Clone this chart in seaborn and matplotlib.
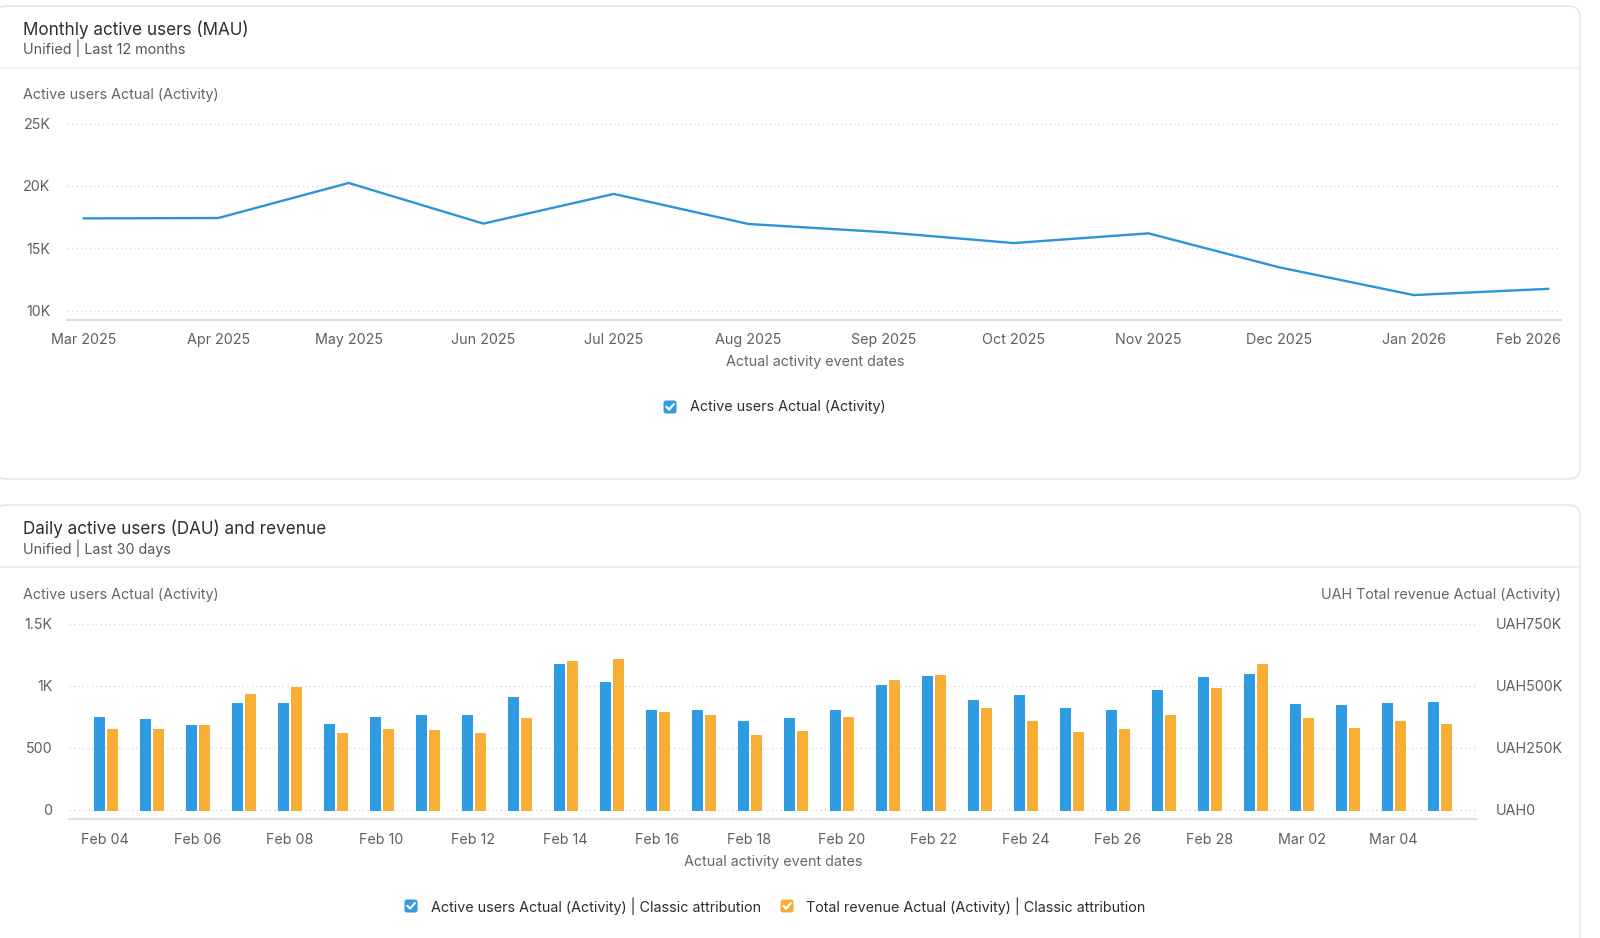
import numpy as np
import pandas as pd
import matplotlib
matplotlib.use("Agg")
import matplotlib.pyplot as plt
import matplotlib.ticker as mticker
from matplotlib.patches import FancyBboxPatch
from matplotlib.lines import Line2D
from matplotlib.transforms import IdentityTransform
import seaborn as sns

# ---------------- data ----------------
months = ["2025-03-01", "2025-04-01", "2025-05-01", "2025-06-01", "2025-07-01", "2025-08-01",
          "2025-09-01", "2025-10-01", "2025-11-01", "2025-12-01", "2026-01-01", "2026-02-01"]
mau = [17400, 17430, 20240, 16980, 19360, 16950, 16300, 15420, 16200, 13480, 11250, 11750]
mau_ticks = [10000, 15000, 20000, 25000]

days = ["Feb 04", "Feb 05", "Feb 06", "Feb 07", "Feb 08", "Feb 09", "Feb 10", "Feb 11", "Feb 12",
        "Feb 13", "Feb 14", "Feb 15", "Feb 16", "Feb 17", "Feb 18", "Feb 19", "Feb 20", "Feb 21",
        "Feb 22", "Feb 23", "Feb 24", "Feb 25", "Feb 26", "Feb 27", "Feb 28", "Mar 01", "Mar 02",
        "Mar 03", "Mar 04", "Mar 05"]
dau = [750, 731, 683, 858, 858, 691, 750, 761, 769, 914, 1175, 1030, 806, 806, 720, 739, 806, 1011,
       1078, 884, 930, 824, 805, 970, 1068, 1097, 854, 843, 865, 873]
revenue = [326500, 326500, 341500, 467500, 496000, 308000, 326500, 322500, 308000, 369500,
           602000, 607500, 394000, 384500, 302500, 317000, 375000, 525500, 544500, 410000,
           358000, 315000, 325500, 384000, 490500, 588000, 369000, 329500, 359500, 344500]
dau_ticks = [0, 500, 1000, 1500]
rev_ticks = [0, 250000, 500000, 750000]

S_MAU = "Active users Actual (Activity)"
S_DAU = "Active users Actual (Activity) | Classic attribution"
S_REV = "Total revenue Actual (Activity) | Classic attribution"

BLUE = "#2F9BE3"
LINE_BLUE = "#2B95D8"
ORANGE = "#F6AE35"
TXT = "#2E2E2E"
SUB = "#555555"
LBL = "#666666"
TICK = "#5F5F5F"
GRID = "#DADADA"
SPINE = "#DCE0E5"
BORDER = "#E6E8EB"

FS_TITLE = 12.3
FS = 10.3

W, H = 1600, 938

sns.set_theme(style="white")
plt.rcParams["font.family"] = ["Inter", "DejaVu Sans"]

fig = plt.figure(figsize=(W / 100, H / 100), dpi=100)
fig.patch.set_facecolor("white")


def fx(px):
    return px / W


def fy(py):
    return 1 - py / H


def card(x0, y0, x1, y1, divider):
    fig.add_artist(FancyBboxPatch((x0, H - y1), x1 - x0, y1 - y0,
                                  boxstyle="round,pad=0,rounding_size=12",
                                  transform=IdentityTransform(), facecolor="white",
                                  edgecolor=BORDER, lw=1.2, zorder=0))
    fig.add_artist(Line2D([x0, x1], [H - divider, H - divider], transform=IdentityTransform(),
                          color="#EDEEF0", lw=1.2, zorder=1))


def checkbox(cx, cy, color):
    fig.add_artist(FancyBboxPatch((cx - 6.5, H - cy - 6.5), 13, 13,
                                  boxstyle="round,pad=0,rounding_size=2.5",
                                  transform=IdentityTransform(), facecolor=color,
                                  edgecolor="none", zorder=5))
    fig.add_artist(Line2D([cx - 3.6, cx - 1.0, cx + 3.8], [H - cy + 0.2, H - cy - 2.6, H - cy + 2.8],
                          transform=IdentityTransform(), color="white", lw=1.6,
                          solid_capstyle="round", solid_joinstyle="round", zorder=6))


def style_axes(ax):
    for s in ["top", "left", "right"]:
        ax.spines[s].set_visible(False)
    ax.spines["bottom"].set_color(SPINE)
    ax.spines["bottom"].set_linewidth(1.6)
    ax.yaxis.grid(True, color=GRID, lw=1.0, linestyle=(0, (1, 2.2)))
    ax.xaxis.grid(False)
    ax.set_axisbelow(True)
    ax.tick_params(axis="both", length=0, labelsize=FS, labelcolor=TICK)
    ax.set_xlabel("")
    ax.set_ylabel("")


def baseline_xlabels(ax):
    for t in ax.get_xticklabels():
        t.set_verticalalignment("baseline")


# ---------------- cards ----------------
card(-6, 6, 1580, 479, 68)
card(-6, 505, 1580, 960, 567)

# ---------------- top chart ----------------
df_mau = pd.DataFrame({"month": pd.to_datetime(months), "users": mau})
ax1 = fig.add_axes([fx(67), fy(320), fx(1561) - fx(67), fy(122) - fy(320)])
ax1.set_facecolor("none")
sns.lineplot(data=df_mau, x="month", y="users", ax=ax1, color=LINE_BLUE, lw=1.7)
style_axes(ax1)
ax1.set_ylim(9250, 25130)
ax1.set_xlim(df_mau["month"].iloc[0] - pd.Timedelta(days=3.8),
             df_mau["month"].iloc[-1] + pd.Timedelta(days=2.9))
ax1.set_yticks(mau_ticks)
ax1.yaxis.set_major_formatter(mticker.FuncFormatter(lambda v, p: f"{v / 1000:g}K"))
ax1.set_xticks(df_mau["month"])
mlabels = [d.strftime("%b %Y") for d in df_mau["month"]]
ax1.set_xticklabels(mlabels[:-1] + [""])
ax1.tick_params(axis="y", pad=12)
ax1.tick_params(axis="x", pad=17.5)
baseline_xlabels(ax1)
# last month label is clamped inside the plot area
ax1.annotate(mlabels[-1], xy=(1, 0), xycoords="axes fraction", xytext=(0, -17.5),
             textcoords="offset points", ha="right", va="baseline", fontsize=FS, color=TICK)

fig.text(fx(23), fy(30), "Monthly active users (MAU)", fontsize=FS_TITLE, color=TXT, va="center", ha="left")
fig.text(fx(23), fy(48.5), "Unified | Last 12 months", fontsize=FS, color=SUB, va="center", ha="left")
fig.text(fx(23), fy(95.5), "Active users Actual (Activity)", fontsize=FS, color=LBL, va="center", ha="left")
fig.text(fx(815), fy(362), "Actual activity event dates", fontsize=FS, color=LBL, va="center", ha="center")
checkbox(670, 407, BLUE)
fig.text(fx(690), fy(407), S_MAU, fontsize=FS, color=TXT, va="center", ha="left")

# ---------------- bottom chart ----------------
df_u = pd.DataFrame({"day": days, "value": dau, "series": S_DAU})
df_r = pd.DataFrame({"day": days, "value": revenue, "series": S_REV})
ax2 = fig.add_axes([fx(69), fy(819), fx(1476) - fx(69), fy(623.5) - fy(819)])
ax2.set_facecolor("none")
ax2r = ax2.twinx()
pal = {S_DAU: BLUE, S_REV: ORANGE}
sns.barplot(data=df_u, x="day", y="value", hue="series", hue_order=[S_DAU, S_REV], order=days,
            palette=pal, width=0.57, gap=0.25, dodge=True, saturation=1, legend=False, ax=ax2,
            errorbar=None)
sns.barplot(data=df_r, x="day", y="value", hue="series", hue_order=[S_DAU, S_REV], order=days,
            palette=pal, width=0.57, gap=0.25, dodge=True, saturation=1, legend=False, ax=ax2r,
            errorbar=None)
style_axes(ax2)
ax2r.set_xlabel("")
ax2r.set_ylabel("")
for s in ax2r.spines.values():
    s.set_visible(False)
ax2r.grid(False)
ax2r.tick_params(axis="both", length=0, labelsize=FS, labelcolor=TICK)
for axb in (ax2, ax2r):
    for p in axb.patches:
        p.set_joinstyle("round")
        p.set_edgecolor(p.get_facecolor())
        p.set_linewidth(0.7)

ylo, yhi = -75, 1504
ax2.set_ylim(ylo, yhi)
ax2r.set_ylim(ylo * 500, yhi * 500)
ax2.set_xlim(-0.79, len(days) - 1 + 0.79)
ax2.set_yticks(dau_ticks)
ax2.yaxis.set_major_formatter(mticker.FuncFormatter(
    lambda v, p: "0" if v == 0 else (f"{v / 1000:g}K" if v >= 1000 else f"{v:g}")))
ax2r.set_yticks(rev_ticks)
ax2r.yaxis.set_major_formatter(mticker.FuncFormatter(
    lambda v, p: "UAH0" if v == 0 else f"UAH{v / 1000:g}K"))
ax2.set_xticks(range(0, len(days), 2))
ax2.set_xticklabels(days[::2])
ax2.tick_params(axis="y", pad=12)
ax2.tick_params(axis="x", pad=18)
ax2r.tick_params(axis="y", pad=14)
baseline_xlabels(ax2)

fig.text(fx(23), fy(529), "Daily active users (DAU) and revenue", fontsize=FS_TITLE, color=TXT, va="center", ha="left")
fig.text(fx(23), fy(548.5), "Unified | Last 30 days", fontsize=FS, color=SUB, va="center", ha="left")
fig.text(fx(23), fy(594.5), "Active users Actual (Activity)", fontsize=FS, color=LBL, va="center", ha="left")
fig.text(fx(1561), fy(594.5), "UAH Total revenue Actual (Activity)", fontsize=FS, color=LBL, va="center", ha="right")
fig.text(fx(773), fy(862), "Actual activity event dates", fontsize=FS, color=LBL, va="center", ha="center")
checkbox(411, 906, BLUE)
fig.text(fx(431), fy(906), S_DAU, fontsize=FS, color=TXT, va="center", ha="left")
checkbox(787, 906, ORANGE)
fig.text(fx(806), fy(906), S_REV, fontsize=FS, color=TXT, va="center", ha="left")

fig.savefig("out.png", dpi=100, facecolor="white")
